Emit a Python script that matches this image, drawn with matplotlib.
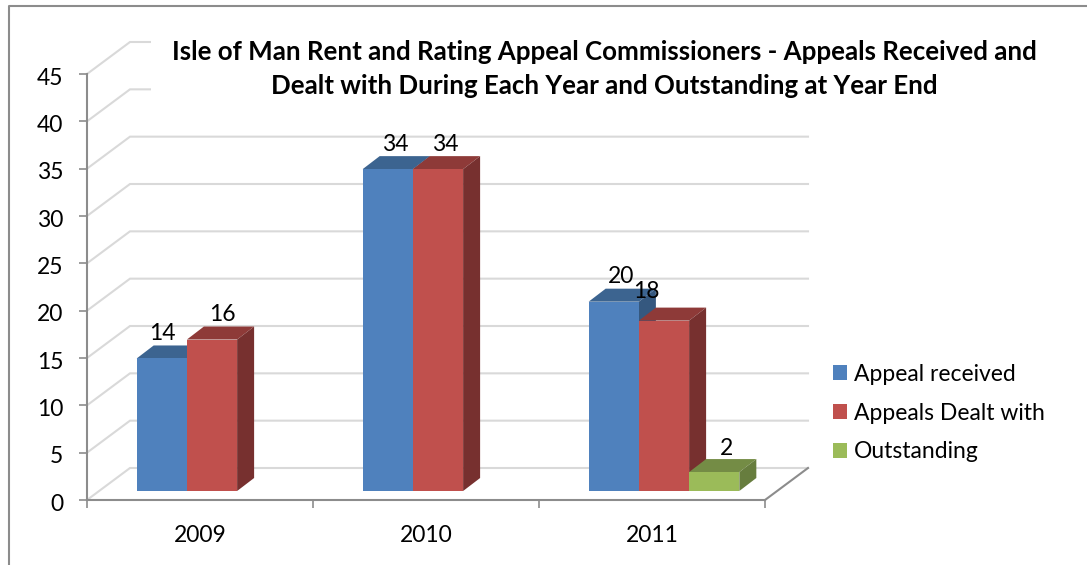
import matplotlib
matplotlib.use("Agg")
import matplotlib.pyplot as plt
from matplotlib.lines import Line2D
from matplotlib.patches import Patch, Polygon
from matplotlib.transforms import ScaledTranslation

plt.rcParams["font.family"] = ["Lato", "DejaVu Sans"]

years = ["2009", "2010", "2011"]
received = [14, 34, 20]
dealt = [16, 34, 18]
outstanding = [None, None, 2]
series_names = ["Appeal received", "Appeals Dealt with", "Outstanding"]
series_values = [received, dealt, outstanding]
y_ticks = [0, 5, 10, 15, 20, 25, 30, 35, 40, 45]

title = ("Isle of Man Rent and Rating Appeal Commissioners - Appeals Received and\n"
         "Dealt with During Each Year and Outstanding at Year End")

# front, top, side shade of each series
front_cols = ["#4f81bd", "#c0504d", "#9bbb59"]
top_cols = ["#3c6490", "#8e3a38", "#748c45"]
side_cols = ["#35587f", "#77302f", "#677d3e"]

W, H = 1087, 565
AX_L, AX_R, AX_T, AX_B = 87, 765, 74, 500
GRID = "#d9d9d9"
AXIS = "#8c8c8c"
FS = 16.5

# label nudges in pixels, (category, series): (right, up)
label_nudge = {(0, 0): (1, 25), (0, 1): (10, 25), (2, 1): (-18, 29), (2, 2): (12, 24)}

fig = plt.figure(figsize=(W / 100, H / 100), dpi=100)
ax = fig.add_axes([AX_L / W, 1 - AX_B / H, (AX_R - AX_L) / W, (AX_B - AX_T) / H])
ax.set_xlim(0, 3)
ax.set_ylim(0, 45)

# pixel sizes turned into data units
px_x = 3 / (AX_R - AX_L)
px_y = 45 / (AX_B - AX_T)
wall_dx, wall_dy = 43 * px_x, 32 * px_y
bar_dx, bar_dy = 17 * px_x, 13 * px_y
inset_x, inset_y = 12 * px_x, 9 * px_y
bar_w = 1 / 4.5

# walls
for v in y_ticks:
    ax.plot([0, wall_dx, 3 + wall_dx], [v, v + wall_dy, v + wall_dy], color=GRID,
            lw=1.5, clip_on=False, zorder=1, solid_joinstyle="miter")
ax.plot([3, 3 + wall_dx], [0, wall_dy], color=AXIS, lw=1.5, clip_on=False, zorder=2)

# bars, left to right so the next bar hides the side of the one before
for c in range(len(years)):
    for s, vals in enumerate(series_values):
        v = vals[c]
        if v is None:
            continue
        x0 = c + (0.75 + s) * bar_w + inset_x
        x1 = x0 + bar_w
        y0 = inset_y
        y1 = v + inset_y
        top = [(x0, y1), (x1, y1), (x1 + bar_dx, y1 + bar_dy), (x0 + bar_dx, y1 + bar_dy)]
        side = [(x1, y0), (x1 + bar_dx, y0 + bar_dy), (x1 + bar_dx, y1 + bar_dy), (x1, y1)]
        front = [(x0, y0), (x1, y0), (x1, y1), (x0, y1)]
        z = 3 + c + s * 0.1
        ax.add_patch(Polygon(top, fc=top_cols[s], ec="none", clip_on=False, zorder=z))
        ax.add_patch(Polygon(side, fc=side_cols[s], ec="none", clip_on=False, zorder=z))
        ax.add_patch(Polygon(front, fc=front_cols[s], ec="none", clip_on=False, zorder=z + 0.01))

        ax.annotate(str(v), ((x0 + x1) / 2, y1), xytext=label_nudge.get((c, s), (7, 25)),
                    textcoords="offset pixels", ha="center", va="center",
                    fontsize=FS, color="black", zorder=20, annotation_clip=False)

for sp in ["top", "right"]:
    ax.spines[sp].set_visible(False)
for sp in ["left", "bottom"]:
    ax.spines[sp].set_color(AXIS)
    ax.spines[sp].set_linewidth(1.5)
    ax.spines[sp].set_zorder(2)
ax.patch.set_alpha(0)

ax.set_yticks(y_ticks)
ax.set_xticks([0, 1, 2, 3])
ax.set_xticklabels([])
ax.set_xticks([0.5, 1.5, 2.5], years, minor=True)
ax.tick_params(axis="y", length=6, width=1.2, color=AXIS, labelsize=FS, pad=11)
ax.tick_params(axis="x", which="major", length=6, width=1.2, color=AXIS)
ax.tick_params(axis="x", which="minor", length=0, labelsize=FS, pad=18)

# y labels sit a little below their ticks
down = ScaledTranslation(0, -1.5 / 72, fig.dpi_scale_trans)
for lab in ax.get_yticklabels():
    lab.set_transform(lab.get_transform() + down)

fig.text(604.5 / W, 1 - 69 / H, title, ha="center", va="center", fontsize=18.6, fontweight="bold",
         linespacing=1.46, zorder=30,
         bbox=dict(fc="white", ec="none", pad=15))

handles = [Patch(fc=col, ec="none") for col in front_cols]
fig.legend(handles, series_names, loc="center left", bbox_to_anchor=(833 / W, 1 - 413 / H),
           frameon=False, fontsize=FS, handlelength=0.61, handleheight=0.61,
           handletextpad=0.32, labelspacing=0.78, borderpad=0, borderaxespad=0)

# outer chart border, only left and top are in the picture
fig.add_artist(Line2D([9 / W, 9 / W, 1], [0, 1 - 6 / H, 1 - 6 / H], color="#8c8c8c", lw=1.5))

fig.savefig("out.png", dpi=100)
